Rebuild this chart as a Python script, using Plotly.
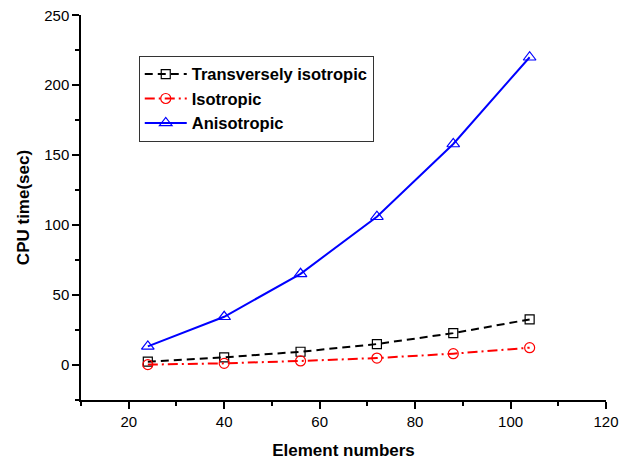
import plotly.graph_objects as go

elements = [24, 40, 56, 72, 88, 104]
transversely = [2.4, 5.5, 9.5, 15.0, 22.8, 32.6]
isotropic = [0.3, 1.2, 2.9, 5.0, 8.1, 12.4]
anisotropic = [13.3, 34.5, 65.2, 106.0, 158.0, 220.0]

FONT = "Liberation Sans, Arial, sans-serif"

fig = go.Figure()
fig.add_trace(go.Scatter(
    x=elements, y=transversely, name="Transversely isotropic", mode="lines+markers",
    line=dict(color="black", width=2, dash="8px,5px"),
    marker=dict(symbol="square-open", size=9, color="black", line=dict(width=1.2)),
))
fig.add_trace(go.Scatter(
    x=elements, y=isotropic, name="Isotropic", mode="lines+markers",
    line=dict(color="red", width=2, dash="10px,4px,2px,4px"),
    marker=dict(symbol="circle-open", size=10, color="red", line=dict(width=1.2)),
))
fig.add_trace(go.Scatter(
    x=elements, y=anisotropic, name="Anisotropic", mode="lines+markers",
    line=dict(color="blue", width=2),
    marker=dict(symbol="triangle-up-open", size=11, color="blue", line=dict(width=1.2)),
))

fig.update_layout(
    width=622, height=455,
    margin=dict(l=73, r=24, t=7, b=63),
    paper_bgcolor="white", plot_bgcolor="white",
    font=dict(family=FONT, size=15, color="black"),
    showlegend=True,
    legend=dict(
        x=0.11, y=0.894, xanchor="left", yanchor="top",
        bordercolor="#333", borderwidth=1, bgcolor="white",
        font=dict(family=FONT, size=16.5, color="black", weight="bold"),
        itemwidth=42, tracegroupgap=0,
    ),
)
fig.update_xaxes(
    range=[10, 120], tickvals=[20, 40, 60, 80, 100, 120], automargin=False,
    showgrid=False, zeroline=False, showline=True, linecolor="black", linewidth=1.5,
    ticks="outside", ticklen=7, tickwidth=1.5, tickcolor="black",
    tickfont=dict(size=15), ticklabeloverflow="allow",
    minor=dict(tickvals=[10, 30, 50, 70, 90, 110], ticks="outside", ticklen=4, tickwidth=1.5, tickcolor="black"),
    title=dict(text="Element numbers", font=dict(size=17, weight="bold"), standoff=15),
)
fig.update_yaxes(
    range=[-25, 250.2], tickvals=[0, 50, 100, 150, 200, 250], automargin=False,
    showgrid=False, zeroline=False, showline=True, linecolor="black", linewidth=1.5,
    ticks="outside", ticklen=7, tickwidth=1.5, tickcolor="black",
    tickfont=dict(size=15), ticklabeloverflow="allow",
    minor=dict(tickvals=[-25, 25, 75, 125, 175, 225], ticks="outside", ticklen=4, tickwidth=1.5, tickcolor="black"),
    title=dict(text="CPU time(sec)", font=dict(size=17, weight="bold"), standoff=10),
)

fig.write_html("out.html")
